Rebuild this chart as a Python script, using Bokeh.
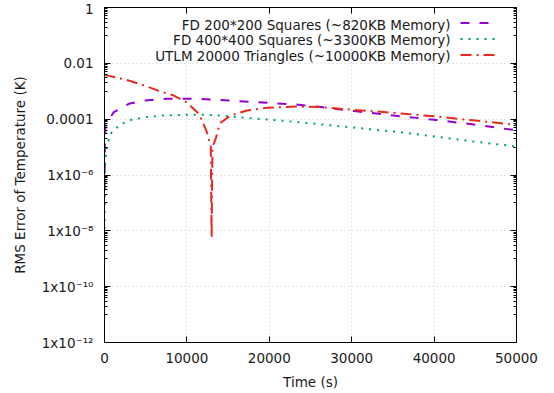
from bokeh.plotting import figure
from bokeh.models import (FixedTicker, LogAxis, LinearAxis, CustomJSTickFormatter,
                          Legend, LegendItem, Label, Range1d)
from bokeh.embed import file_html
from bokeh.resources import INLINE

# ---- data ----
time_fd200 = [0, 15, 40, 120, 450, 1130, 2950, 4980, 7600, 11000, 15000, 20500,
              23000, 25800, 30300, 35100, 40000, 44800, 50000]
rms_fd200 = [2.8e-7, 1.45e-6, 1.0e-5, 5.9e-5, 8.9e-5, 1.78e-4, 3.55e-4, 4.68e-4,
             5.37e-4, 5.37e-4, 4.68e-4, 3.72e-4, 3.39e-4, 2.82e-4, 1.95e-4,
             1.35e-4, 9.55e-5, 6.46e-5, 3.98e-5]

time_fd400 = [0, 10, 30, 80, 320, 730, 1330, 1940, 2550, 3280, 4980, 7000, 10200,
              12300, 14500, 17300, 21400, 24800, 29900, 35900, 40000, 44800, 50000]
rms_fd400 = [1.17e-8, 5.4e-8, 3.6e-7, 2.9e-6, 1.15e-5, 3.0e-5, 4.5e-5, 6.5e-5,
             7.8e-5, 9.5e-5, 1.17e-4, 1.35e-4, 1.45e-4, 1.45e-4, 1.32e-4, 1.10e-4,
             8.9e-5, 7.2e-5, 5.1e-5, 3.4e-5, 2.4e-5, 1.58e-5, 1.05e-5]

time_utlm = [0, 500, 2500, 4800, 6500, 8300, 10000, 11500, 12400, 12900, 13000,
             13100, 13500, 14000, 15300, 17300, 19800, 23400, 26000, 30000, 35000,
             40000, 45000, 50000]
rms_utlm = [3.98e-3, 3.55e-3, 2.63e-3, 1.62e-3, 1.05e-3, 7.24e-4, 3.98e-4, 1.51e-4,
            3.55e-5, 1.0e-5, 5.9e-9, 1.0e-5, 2.0e-5, 7.1e-5, 1.35e-4, 2.04e-4,
            2.57e-4, 2.82e-4, 2.75e-4, 2.19e-4, 1.70e-4, 1.26e-4, 8.9e-5, 6.2e-5]

series_names = ["FD 200*200 Squares (~820KB Memory)",
                "FD 400*400 Squares (~3300KB Memory)",
                "UTLM 20000 Triangles (~10000KB Memory)"]

x_ticks = [0, 10000, 20000, 30000, 40000, 50000]
y_tick_exponents = [0, -2, -4, -6, -8, -10, -12]
y_tick_labels = ["1", "0.01", "0.0001", "1x10\u207b\u2076", "1x10\u207b\u2078",
                 "1x10\u207b\u00b9\u2070", "1x10\u207b\u00b9\u00b2"]

FONT = "DejaVu Sans"
TXT = "#1a1a1a"
FS = "13.5px"

y_major = [10.0 ** e for e in y_tick_exponents]
y_minor = [j * 10.0 ** (e - 1) for e in y_tick_exponents for j in range(1, 10)]

p = figure(width=554, height=393, x_range=Range1d(0, 50000),
           y_range=Range1d(1e-12, 1), y_axis_type="log",
           output_backend="svg", toolbar_location=None,
           min_border_left=104, min_border_right=38, min_border_top=7,
           min_border_bottom=51)

p.outline_line_color = "black"
p.outline_line_width = 1

yticker = FixedTicker(ticks=y_major, minor_ticks=y_minor)
xticker = FixedTicker(ticks=x_ticks, minor_ticks=[])

fmt = CustomJSTickFormatter(args=dict(exps=y_tick_exponents, labels=y_tick_labels), code="""
const e = Math.round(Math.log10(tick));
const i = exps.indexOf(e);
return i >= 0 ? labels[i] : "";
""")

def style_axis(ax):
    ax.axis_line_color = "black"
    ax.major_tick_line_color = "black"
    ax.minor_tick_line_color = "black"
    ax.major_tick_in = 6
    ax.major_tick_out = 0
    ax.minor_tick_in = 3
    ax.minor_tick_out = 0
    ax.major_label_text_font = FONT
    ax.major_label_text_font_size = FS
    ax.major_label_text_color = TXT
    ax.axis_label_text_font = FONT
    ax.axis_label_text_font_size = FS
    ax.axis_label_text_font_style = "normal"
    ax.axis_label_text_color = TXT

xa = p.xaxis[0]
ya = p.yaxis[0]
xa.ticker = xticker
ya.ticker = yticker
ya.formatter = fmt
style_axis(xa)
style_axis(ya)
xa.axis_label = "Time (s)"
ya.axis_label = "RMS Error of Temperature (K)"
xa.major_label_standoff = 10
ya.major_label_standoff = 11
xa.axis_label_standoff = 8
ya.axis_label_standoff = 11

top = LinearAxis(ticker=xticker)
right = LogAxis(ticker=yticker)
for ax in (top, right):
    style_axis(ax)
    ax.major_label_text_font_size = "1px"
    ax.major_label_text_color = None
    ax.major_label_standoff = 0
p.add_layout(top, "above")
p.add_layout(right, "right")

p.xgrid.ticker = xticker
p.ygrid.ticker = FixedTicker(ticks=y_major, minor_ticks=[])
for g in (p.xgrid, p.ygrid):
    g.grid_line_color = "#cccccc"
    g.grid_line_dash = "1 3"
    g.grid_line_width = 1

r1 = p.line(time_fd200, rms_fd200, line_color="#9400d3", line_width=2,
            line_dash="9 10")
r2 = p.line(time_fd400, rms_fd400, line_color="#009e73", line_width=2,
            line_dash="2 6")
r3 = p.line(time_utlm, rms_utlm, line_color="#e8291c", line_width=2,
            line_dash="11 5 2 5")

legend = Legend(items=[LegendItem(label=" ", renderers=[r]) for r in (r1, r2, r3)],
                location=(356, 280), glyph_width=38, glyph_height=15,
                label_width=0, label_height=15, label_standoff=0,
                label_text_font_size="1px", label_text_color=None,
                padding=0, margin=0, spacing=1,
                border_line_alpha=0, background_fill_alpha=0)
p.add_layout(legend)

for i, name in enumerate(series_names):
    p.add_layout(Label(x=346, y=318 - i * 15.5, x_units="screen", y_units="screen",
                       text=name, text_align="right", text_baseline="middle",
                       text_font=FONT, text_font_size=FS, text_color=TXT))

open("out.html", "w").write(file_html(p, INLINE))
